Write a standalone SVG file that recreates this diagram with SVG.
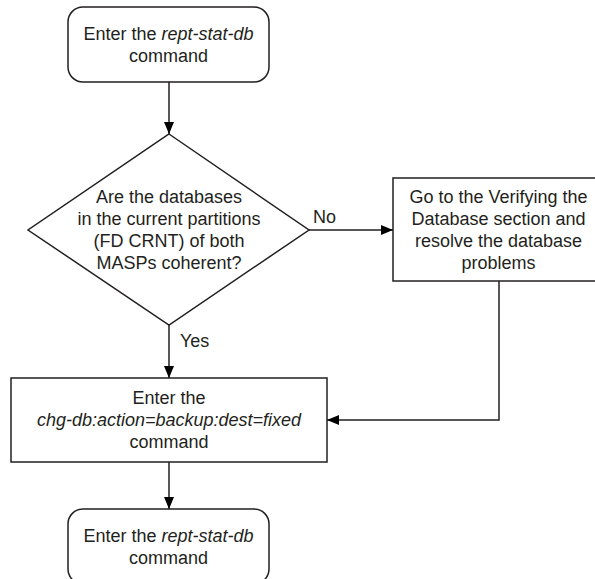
<svg xmlns="http://www.w3.org/2000/svg" width="595" height="579" viewBox="0 0 595 579">
<style>
.shape{fill:#fff;stroke:#231f20;stroke-width:1.5}
.line{fill:none;stroke:#231f20;stroke-width:1.5}
text{font-family:"Liberation Sans",Arial,sans-serif;font-size:18px;fill:#231f20}
.c{text-anchor:middle}
.i{font-style:italic}
</style>
<defs>
<marker id="arr" markerWidth="12" markerHeight="10" refX="12" refY="5" orient="auto" markerUnits="userSpaceOnUse">
<path d="M0,0 L12,5 L0,10 Z" fill="#000"/>
</marker>
</defs>
<rect width="595" height="579" fill="#fff"/>
<g id="connectors">
<line class="line" x1="169" y1="82" x2="169" y2="134" marker-end="url(#arr)"/>
<line class="line" x1="309" y1="230" x2="393" y2="230" marker-end="url(#arr)"/>
<line class="line" x1="169" y1="325" x2="169" y2="378" marker-end="url(#arr)"/>
<polyline class="line" points="499,281 499,420 327,420" marker-end="url(#arr)"/>
<line class="line" x1="169" y1="462" x2="169" y2="509" marker-end="url(#arr)"/>
<text x="313" y="223">No</text>
<text x="180" y="347">Yes</text>
</g>
<g id="start">
<rect class="shape" x="68" y="7" width="201" height="75" rx="15" ry="15"/>
<text class="c" x="168.5" y="39.5">Enter the <tspan class="i">rept-stat-db</tspan></text>
<text class="c" x="168.5" y="61.5">command</text>
</g>
<g id="decision">
<polygon class="shape" points="169,134 309,230 169,325 28,230"/>
<text class="c" x="169" y="203">Are the databases</text>
<text class="c" x="169" y="225">in the current partitions</text>
<text class="c" x="169" y="247">(FD CRNT) of both</text>
<text class="c" x="169" y="269">MASPs coherent?</text>
</g>
<g id="verify">
<rect class="shape" x="393" y="178" width="212" height="103"/>
<text class="c" x="498.5" y="203">Go to the Verifying the</text>
<text class="c" x="498.5" y="225">Database section and</text>
<text class="c" x="498.5" y="247">resolve the database</text>
<text class="c" x="498.5" y="269">problems</text>
</g>
<g id="backup">
<rect class="shape" x="11" y="378" width="316" height="84"/>
<text class="c" x="169" y="404">Enter the</text>
<text class="c i" x="169" y="426">chg-db:action=backup:dest=fixed</text>
<text class="c" x="169" y="448">command</text>
</g>
<g id="end">
<rect class="shape" x="68" y="509" width="201" height="75" rx="15" ry="15"/>
<text class="c" x="168.5" y="541.5">Enter the <tspan class="i">rept-stat-db</tspan></text>
<text class="c" x="168.5" y="563.5">command</text>
</g>
</svg>
